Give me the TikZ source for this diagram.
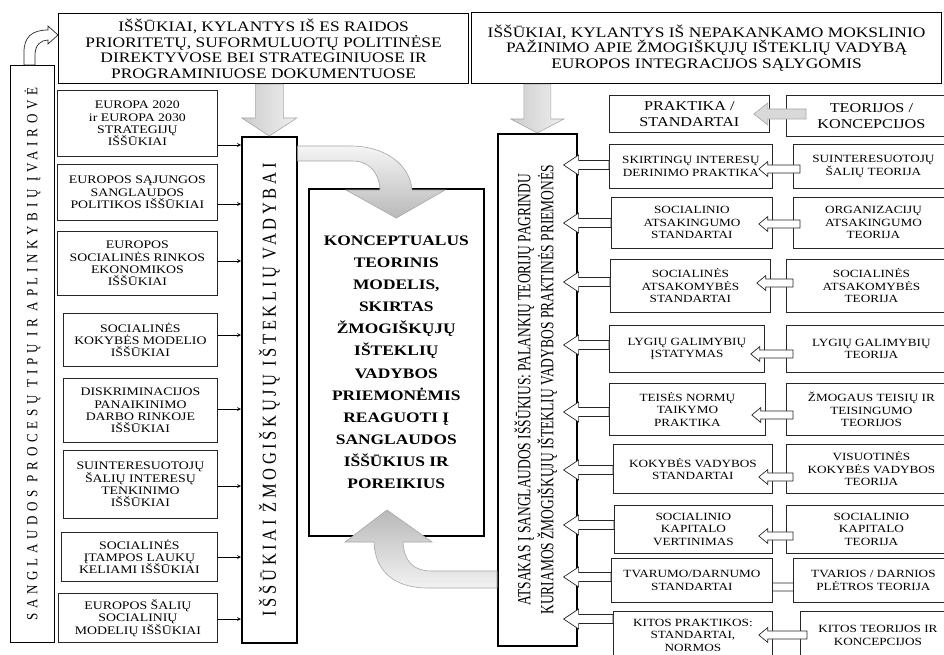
\documentclass[tikz,border=0pt]{standalone}
\usepackage{fontspec}
\setmainfont{Liberation Serif}[FakeStretch=1.2]
\newfontfamily\rotfont{Liberation Serif}
\newfontfamily\procfont{Liberation Serif}[LetterSpace=36]
\newfontfamily\midfont{Liberation Serif}[LetterSpace=22]
\usepackage{graphicx}
\usetikzlibrary{arrows, calc, backgrounds}
\tikzset{
	>=stealth, % Puntas de flecha finas
	x=1pt, y=-1pt, % Coordenadas en pixeles
	caja/.style={draw=black!85, fill=white, anchor=north west, inner sep=0pt, align=center, line width=0.8pt, font=\fontsize{11.5}{12.3}\selectfont}, % Cajas de retos
	fila/.style={caja, font=\fontsize{11}{12.5}\selectfont}, % Cajas de practica y teoria
	titulo/.style={caja, draw=black, line width=1.2pt, font=\fontsize{14.5}{15.5}\selectfont}, % Cajas superiores
	columna/.style={draw=black, fill=white, anchor=north west, inner sep=0pt, line width=1.6pt}, % Columnas verticales
	flechagris/.style={draw=gray!70, line width=0.6pt}, % Flechas grises
	flechablanca/.style={draw=black!85, fill=white, line width=0.7pt}, % Flechas huecas
	bloqueizq/.style n args={4}{to path={let \p1=(\tikztostart), \p2=(\tikztotarget) in
		(\x1+#4,\y1+#1) -- (\x2+#3,\y1+#1) -- (\x2+#3,\y1+#2) -- (\x2,\y1) -- (\x2+#3,\y1-#2) -- (\x2+#3,\y1-#1) -- (\x1+#4,\y1-#1) -- cycle}},
	bloqueabajo/.style n args={3}{to path={let \p1=(\tikztostart), \p2=(\tikztotarget) in
		(\x2-#1,\y1) -- (\x2-#1,\y2+#3) -- (\x2-#2,\y2+#3) -- (\x2,\y2) -- (\x2+#2,\y2+#3) -- (\x2+#1,\y2+#3) -- (\x2+#1,\y1) -- cycle}}
}

\begin{document}
\begin{tikzpicture}
	\useasboundingbox (0,0) rectangle (944,655);
	\clip (0,0) rectangle (944,655);
	% columnas
	\node[columna, line width=0.8pt, minimum width=44pt, minimum height=577pt] (proc) at (10,65) {\rotatebox{90}{\scalebox{1}[1.2]{\procfont\fontsize{13}{15}\selectfont SANGLAUDOS PROCESŲ TIPŲ IR APLINKYBIŲ ĮVAIROVĖ}}};
	\node[columna, minimum width=55pt, minimum height=506pt] (vadyba) at (241,136) {\rotatebox{90}{\scalebox{1}[1.2]{\midfont\fontsize{16.5}{19}\selectfont IŠŠŪKIAI ŽMOGIŠKŲJŲ IŠTEKLIŲ VADYBAI}}};
	\node[columna, minimum width=175pt, minimum height=347pt, align=center, font=\bfseries\fontsize{14.5}{22.1}\selectfont] (modelis) at (308,188) {KONCEPTUALUS\\TEORINIS\\MODELIS,\\SKIRTAS\\ŽMOGIŠKŲJŲ\\IŠTEKLIŲ\\VADYBOS\\PRIEMONĖMIS\\REAGUOTI Į\\SANGLAUDOS\\IŠŠŪKIUS IR\\POREIKIUS};
	\node[columna, minimum width=79pt, minimum height=512pt] (atsakas) at (497,133) {\rotatebox{90}{\scalebox{0.87}[1.2]{\rotfont\fontsize{15.5}{19}\selectfont\begin{tabular}{@{}c@{}}ATSAKAS Į SANGLAUDOS IŠŠŪKIUS: PALANKIŲ TEORIJŲ PAGRINDU\\KURIAMOS ŽMOGIŠKŲJŲ IŠTEKLIŲ VADYBOS PRAKTINĖS PRIEMONĖS\end{tabular}}}};
	% cajas superiores
	\node[titulo, minimum width=410pt, minimum height=70pt] (es) at (58,13) {IŠŠŪKIAI, KYLANTYS IŠ ES RAIDOS\\PRIORITETŲ, SUFORMULUOTŲ POLITINĖSE\\DIREKTYVOSE BEI STRATEGINIUOSE IR\\PROGRAMINIUOSE DOKUMENTUOSE};
	\node[titulo, minimum width=470pt, minimum height=71pt] (moksl) at (471,12) {IŠŠŪKIAI, KYLANTYS IŠ NEPAKANKAMO MOKSLINIO\\PAŽINIMO APIE ŽMOGIŠKŲJŲ IŠTEKLIŲ VADYBĄ\\EUROPOS INTEGRACIJOS SĄLYGOMIS};
	% retos
	\node[caja, minimum width=160pt, minimum height=66pt] (iss1) at (57,90) {EUROPA 2020\\ir EUROPA 2030\\STRATEGIJŲ\\IŠŠŪKIAI};
	\node[caja, minimum width=160pt, minimum height=56pt] (iss2) at (57,164) {EUROPOS SĄJUNGOS\\SANGLAUDOS\\POLITIKOS IŠŠŪKIAI};
	\node[caja, minimum width=160pt, minimum height=64pt] (iss3) at (57,231) {EUROPOS\\SOCIALINĖS RINKOS\\EKONOMIKOS\\IŠŠŪKIAI};
	\node[caja, minimum width=154pt, minimum height=53pt] (iss4) at (63,313) {SOCIALINĖS\\KOKYBĖS MODELIO\\IŠŠŪKIAI};
	\node[caja, minimum width=154pt, minimum height=64pt] (iss5) at (63,378) {DISKRIMINACIJOS\\PANAIKINIMO\\DARBO RINKOJE\\IŠŠŪKIAI};
	\node[caja, minimum width=154pt, minimum height=68pt] (iss6) at (63,450) {SUINTERESUOTOJŲ\\ŠALIŲ INTERESŲ\\TENKINIMO\\IŠŠŪKIAI};
	\node[caja, minimum width=156pt, minimum height=49pt] (iss7) at (61,532) {SOCIALINĖS\\ĮTAMPOS LAUKŲ\\KELIAMI IŠŠŪKIAI};
	\node[caja, minimum width=159pt, minimum height=49pt] (iss8) at (58,593) {EUROPOS ŠALIŲ\\SOCIALINIŲ\\MODELIŲ IŠŠŪKIAI};
	% practica y teoria
	\node[fila, font=\fontsize{13.5}{16}\selectfont, minimum width=160pt, minimum height=37pt] (prak0) at (609,95) {PRAKTIKA /\\STANDARTAI};
	\node[fila, font=\fontsize{13.5}{16}\selectfont, minimum width=170pt, minimum height=41pt] (teor0) at (786,95) {TEORIJOS /\\KONCEPCIJOS};
	\node[fila, minimum width=163pt, minimum height=44pt] (prak1) at (609,144) {SKIRTINGŲ INTERESŲ\\DERINIMO PRAKTIKA};
	\node[fila, minimum width=160pt, minimum height=44pt] (teor1) at (793,144) {SUINTERESUOTOJŲ\\ŠALIŲ TEORIJA};
	\node[fila, minimum width=161pt, minimum height=51pt] (prak2) at (611,197) {SOCIALINIO\\ATSAKINGUMO\\STANDARTAI};
	\node[fila, minimum width=160pt, minimum height=51pt] (teor2) at (793,197) {ORGANIZACIJŲ\\ATSAKINGUMO\\TEORIJA};
	\node[fila, minimum width=160pt, minimum height=53pt] (prak3) at (610,259) {SOCIALINĖS\\ATSAKOMYBĖS\\STANDARTAI};
	\node[fila, minimum width=170pt, minimum height=53pt] (teor3) at (786,259) {SOCIALINĖS\\ATSAKOMYBĖS\\TEORIJA};
	\node[fila, minimum width=155pt, minimum height=47pt] (prak4) at (609,325) {LYGIŲ GALIMYBIŲ\\ĮSTATYMAS};
	\node[fila, minimum width=170pt, minimum height=47pt] (teor4) at (786,325) {LYGIŲ GALIMYBIŲ\\TEORIJA};
	\node[fila, minimum width=156pt, minimum height=52pt] (prak5) at (609,383) {TEISĖS NORMŲ\\TAIKYMO\\PRAKTIKA};
	\node[fila, minimum width=170pt, minimum height=52pt] (teor5) at (786,383) {ŽMOGAUS TEISIŲ IR\\TEISINGUMO\\TEORIJOS};
	\node[fila, minimum width=159pt, minimum height=49pt] (prak6) at (613,444) {KOKYBĖS VADYBOS\\STANDARTAI};
	\node[fila, minimum width=170pt, minimum height=49pt] (teor6) at (786,444) {VISUOTINĖS\\KOKYBĖS VADYBOS\\TEORIJA};
	\node[fila, minimum width=158pt, minimum height=48pt] (prak7) at (614,505) {SOCIALINIO\\KAPITALO\\VERTINIMAS};
	\node[fila, minimum width=170pt, minimum height=48pt] (teor7) at (786,505) {SOCIALINIO\\KAPITALO\\TEORIJA};
	\node[fila, minimum width=161pt, minimum height=44pt] (prak8) at (611,558) {TVARUMO/DARNUMO\\STANDARTAI};
	\node[fila, minimum width=160pt, minimum height=44pt] (teor8) at (793,558) {TVARIOS / DARNIOS\\PLĖTROS TEORIJA};
	\node[fila, minimum width=159pt, minimum height=48pt] (prak9) at (613,611) {KITOS PRAKTIKOS:\\STANDARTAI,\\NORMOS};
	\node[fila, minimum width=155pt, minimum height=48pt] (teor9) at (800,611) {KITOS TEORIJOS IR\\KONCEPCIJOS};
	% flechas
	\foreach \n/\y in {1/145,2/204,3/261,4/335,5/409,6/486,7/557,8/619}
		\draw[->, line width=0.7pt] (iss\n.east |- 0,\y) -- (vadyba.west |- 0,\y);
	\foreach \n/\ya/\yb in {1/165/169,2/223/224,3/282/283,4/345/354,5/412/415,6/470/477,7/525/536,9/619/635} {
		\draw[flechablanca, bloqueizq={4.5pt}{10pt}{15pt}{0pt}] (prak\n.west |- 0,\ya) to ([xshift=-14pt]atsakas.east);
		\draw[flechablanca, bloqueizq={4pt}{7.5pt}{9pt}{7pt}] (teor\n.west |- 0,\yb) to ([xshift=-14pt]prak\n.east);
	}
	\draw[flechablanca, bloqueizq={4.5pt}{10pt}{15pt}{0pt}] (prak8.west |- 0,577) to ([xshift=-14pt]atsakas.east);
	\begin{pgfonlayer}{background}
		\draw[flechablanca, bloqueizq={4pt}{7.5pt}{9pt}{12pt}] (teor8.west |- 0,587) to ([xshift=-14pt]prak8.east);
	\end{pgfonlayer}
	\draw[flechagris, fill=gray!30, bloqueizq={5pt}{11pt}{14pt}{20pt}] (teor0.west |- 0,114) to ([xshift=-16pt]prak0.east);
	\draw[flechagris, left color=gray!40, right color=gray!12, bloqueabajo={14pt}{27.5pt}{18pt}] (es.south -| vadyba.north) to (vadyba.north);
	\draw[flechagris, left color=gray!40, right color=gray!12, bloqueabajo={13.5pt}{26.5pt}{14pt}] (moksl.south -| atsakas.north) to (atsakas.north);
	\draw[flechagris, top color=gray!8, bottom color=gray!55] (vadyba.east |- 0,146) -- (350,146) .. controls (386,146) and (410,165) .. (412,190) -- (445,190) -- (modelis.north |- 0,218) -- (346,190) -- (380,190) .. controls (379,172) and (369,161) .. (352,161) -- (vadyba.east |- 0,161) -- cycle;
	\draw[flechagris, top color=gray!55, bottom color=gray!10] (atsakas.west |- 0,588) -- (428,588) .. controls (395,588) and (375,572) .. (374,542) -- (345,542) -- (387,510) -- (432,542) -- (403,542) .. controls (404,560) and (412,571) .. (432,571) -- (atsakas.west |- 0,571) -- cycle;
	\draw[flechablanca] ([xshift=14pt]proc.north west) -- (24,52) .. controls (24,37) and (32,30) .. (48,30) -- (48,26) -- (es.west |- 0,35) -- (48,44) -- (48,40) .. controls (41,40) and (35,45) .. (35,55) -- ([xshift=25pt]proc.north west) -- cycle;
\end{tikzpicture}
\end{document}
